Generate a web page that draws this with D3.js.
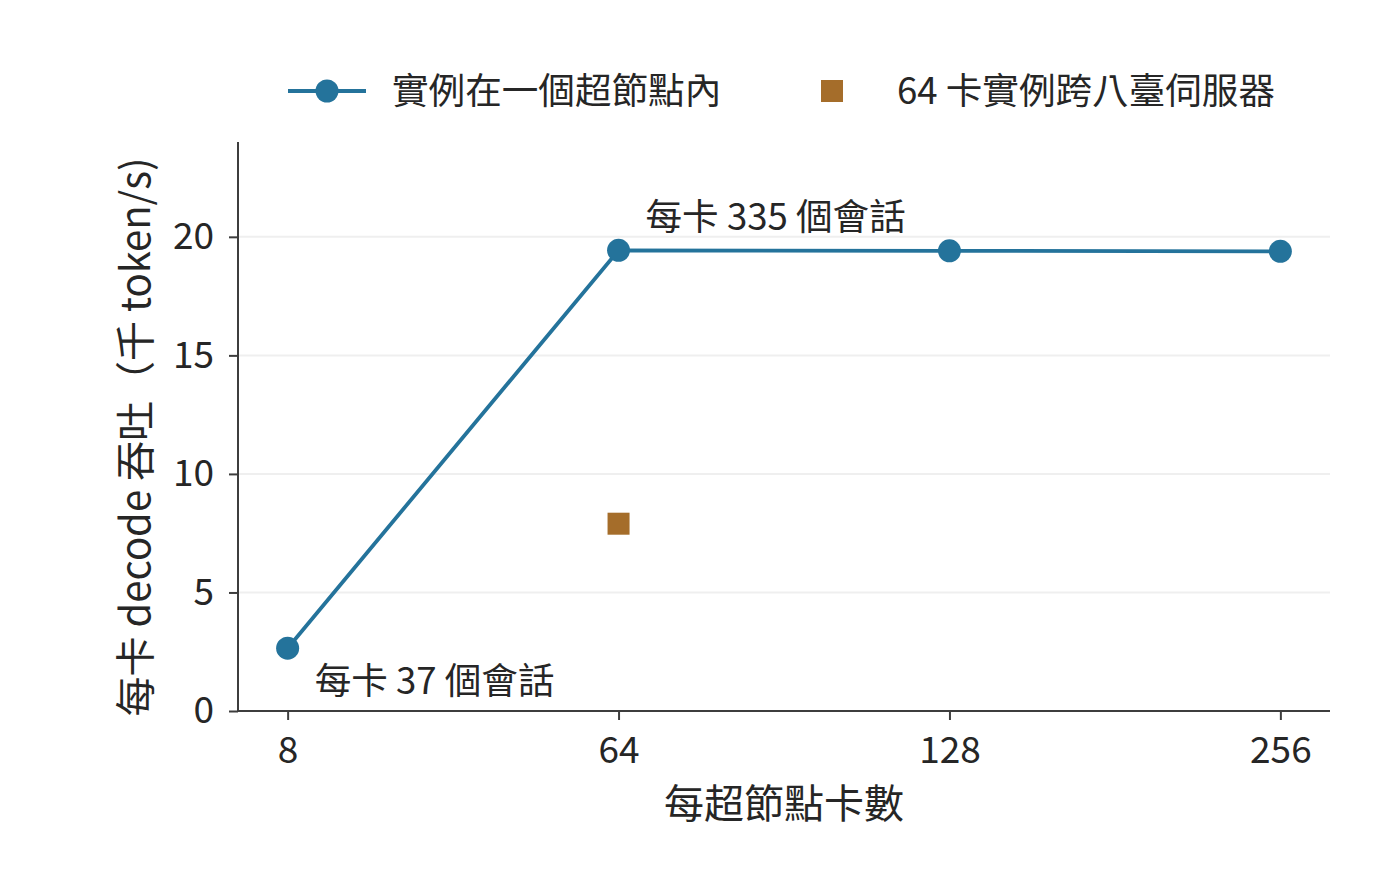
<!DOCTYPE html>
<html>
<head>
<meta charset="utf-8">
<script src="https://cdn.jsdelivr.net/npm/d3@7"></script>
<style>
  body { margin: 0; background: #fff; }
  text { font-family: "Noto Sans CJK TC", "Noto Sans", sans-serif; fill: #262626; }
</style>
</head>
<body>
<svg id="chart" width="1400" height="888"></svg>
<script>
// data
var cardsPerNode = ['8', '64', '128', '256'];
var throughputInNode = [2.65, 19.43, 19.41, 19.39];   // 千 token/s
var crossServerCards = ['64'];
var crossServerValue = [7.9];
var yTicks = [0, 5, 10, 15, 20];
var annotations = [
  { x: '8', text: '每卡 37 個會話' },
  { x: '64', text: '每卡 335 個會話' }
];

var attrs = {
  width: 1400,
  height: 888,
  marginLeft: 238,
  marginRight: 70,
  marginTop: 142,
  marginBottom: 177,
  lineColor: '#24739b',
  squareColor: '#a56d2a',
  axisColor: '#3d3d3d',
  gridColor: '#efefef',
  tickFont: 37,
  labelFont: 40,
  textFont: 36.6
};

var svg = d3.select('#chart');
var chartRight = attrs.width - attrs.marginRight;
var chartBottom = attrs.height - attrs.marginBottom;

var x = d3.scalePoint()
  .domain(cardsPerNode)
  .range([attrs.marginLeft, chartRight])
  .padding(0.15);

var y = d3.scaleLinear()
  .domain([0, 24])
  .range([chartBottom, attrs.marginTop]);

// grid
svg.append('g')
  .selectAll('line')
  .data(yTicks.filter(function(d) { return d > 0; }))
  .enter().append('line')
  .attr('x1', attrs.marginLeft)
  .attr('x2', chartRight)
  .attr('y1', function(d) { return y(d); })
  .attr('y2', function(d) { return y(d); })
  .attr('stroke', attrs.gridColor)
  .attr('stroke-width', 2);

// axes
var yAxis = svg.append('g')
  .attr('transform', 'translate(' + attrs.marginLeft + ',0)')
  .call(d3.axisLeft(y).tickValues(yTicks).tickSize(9).tickPadding(15));

var xAxis = svg.append('g')
  .attr('transform', 'translate(0,' + chartBottom + ')')
  .call(d3.axisBottom(x).tickSize(9).tickPadding(17));

[yAxis, xAxis].forEach(function(g) {
  g.select('.domain').attr('stroke', attrs.axisColor).attr('stroke-width', 2);
  g.selectAll('.tick line').attr('stroke', attrs.axisColor).attr('stroke-width', 2);
  g.selectAll('.tick text')
    .attr('font-size', attrs.tickFont)
    .attr('font-family', '"Noto Sans CJK TC", sans-serif')
    .attr('fill', '#262626');
});
// remove the outer tick caps of the domain paths
yAxis.select('.domain').attr('d', 'M0,' + attrs.marginTop + 'V' + chartBottom);
xAxis.select('.domain').attr('d', 'M' + attrs.marginLeft + ',0H' + chartRight);

// axis labels
svg.append('text')
  .attr('x', (attrs.marginLeft + chartRight) / 2)
  .attr('y', 818)
  .attr('text-anchor', 'middle')
  .attr('font-size', attrs.labelFont)
  .text('每超節點卡數');

svg.append('text')
  .attr('transform', 'translate(150,437) rotate(-90)')
  .attr('text-anchor', 'middle')
  .attr('font-size', attrs.labelFont)
  .text('每卡 decode 吞吐（千 token/s)');

// line series
var line = d3.line()
  .x(function(d, i) { return x(cardsPerNode[i]); })
  .y(function(d) { return y(d); });

svg.append('path')
  .datum(throughputInNode)
  .attr('d', line)
  .attr('fill', 'none')
  .attr('stroke', attrs.lineColor)
  .attr('stroke-width', 3.8);

svg.append('g')
  .selectAll('circle')
  .data(throughputInNode)
  .enter().append('circle')
  .attr('cx', function(d, i) { return x(cardsPerNode[i]); })
  .attr('cy', function(d) { return y(d); })
  .attr('r', 11.5)
  .attr('fill', attrs.lineColor);

// cross-server point
var sq = 22;
svg.append('g')
  .selectAll('rect')
  .data(crossServerValue)
  .enter().append('rect')
  .attr('x', function(d, i) { return x(crossServerCards[i]) - sq / 2; })
  .attr('y', function(d) { return y(d) - sq / 2; })
  .attr('width', sq)
  .attr('height', sq)
  .attr('fill', attrs.squareColor);

// annotations
svg.append('g')
  .selectAll('text')
  .data(annotations)
  .enter().append('text')
  .attr('x', function(d) { return x(d.x) + 27; })
  .attr('y', function(d, i) {
    var v = throughputInNode[cardsPerNode.indexOf(d.x)];
    return i === 0 ? y(v) + 46 : y(v) - 20;
  })
  .attr('font-size', attrs.textFont)
  .text(function(d) { return d.text; });

// legend
var legend = svg.append('g').attr('transform', 'translate(0,91)');
legend.append('line')
  .attr('x1', 288).attr('x2', 366)
  .attr('stroke', attrs.lineColor)
  .attr('stroke-width', 4);
legend.append('circle')
  .attr('cx', 327).attr('r', 11.5)
  .attr('fill', attrs.lineColor);
legend.append('text')
  .attr('x', 392).attr('dy', '0.35em')
  .attr('font-size', attrs.textFont)
  .text('實例在一個超節點內');
legend.append('rect')
  .attr('x', 821).attr('y', -11)
  .attr('width', sq).attr('height', sq)
  .attr('fill', attrs.squareColor);
legend.append('text')
  .attr('x', 897).attr('dy', '0.35em')
  .attr('font-size', attrs.textFont)
  .text('64 卡實例跨八臺伺服器');
</script>
</body>
</html>
